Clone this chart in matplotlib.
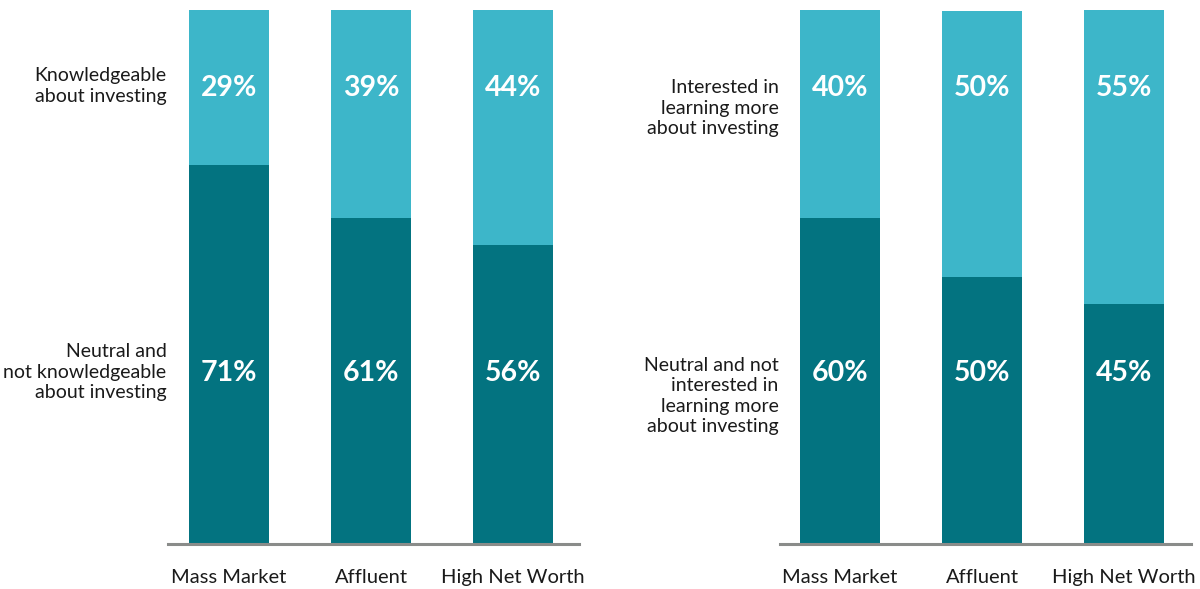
import matplotlib
matplotlib.use("Agg")
import matplotlib.pyplot as plt

categories = ["Mass Market", "Affluent", "High Net Worth"]

left_dark = [71, 61, 56]
left_light = [29, 39, 44]
left_dark_labels = ["71%", "61%", "56%"]
left_light_labels = ["29%", "39%", "44%"]

right_dark = [61, 50, 45]
right_light = [39, 49.8, 55]
right_dark_labels = ["60%", "50%", "45%"]
right_light_labels = ["40%", "50%", "55%"]

left_rows = ["Knowledgeable\nabout investing",
             "Neutral and\nnot knowledgeable\nabout investing"]
right_rows = ["Interested in\nlearning more\nabout investing",
              "Neutral and not\ninterested in\nlearning more\nabout investing"]

DARK = "#037380"
LIGHT = "#3db6c9"
GREY = "#8a8c8a"

plt.rcParams["font.family"] = ["Lato", "DejaVu Sans"]

fig = plt.figure(figsize=(12, 5.89), dpi=100)
W, H = 1200, 589


def make_axes(x0, x1, xmin, xmax):
    ax = fig.add_axes([x0 / W, 45 / H, (x1 - x0) / W, 534 / H])
    ax.set_xlim(xmin, xmax)
    ax.set_ylim(0, 100)
    for s in ["top", "right", "left"]:
        ax.spines[s].set_visible(False)
    ax.spines["bottom"].set_color(GREY)
    ax.spines["bottom"].set_linewidth(2.2)
    ax.set_yticks([])
    ax.tick_params(axis="x", length=0, pad=18, labelsize=14.5, colors="#1a1a1a")
    return ax


def draw(ax, dark, light, dlab, llab, rows, row_y):
    x = range(len(categories))
    w = 80 / 142
    ax.bar(x, dark, width=w, color=DARK)
    ax.bar(x, light, width=w, bottom=dark, color=LIGHT)
    ax.set_xticks(list(x))
    ax.set_xticklabels(categories)
    for i in x:
        ax.text(i, 85.4, llab[i], ha="center", va="center", color="white",
                fontsize=20.5, fontweight="bold")
        ax.text(i, 32.0, dlab[i], ha="center", va="center", color="white",
                fontsize=20.5, fontweight="bold")
    xmin = ax.get_xlim()[0]
    for txt, yy in zip(rows, row_y):
        ax.text(xmin - 0.01, yy, txt, ha="right", va="center", fontsize=14,
                color="#1a1a1a", linespacing=1.25, clip_on=False)


axl = make_axes(168, 579, -61 / 142, 2 + 66 / 142)
draw(axl, left_dark, left_light, left_dark_labels, left_light_labels,
     left_rows, [85.8, 32.2])

axr = make_axes(780, 1191, -60 / 142, 2 + 67 / 142)
draw(axr, right_dark, right_light, right_dark_labels, right_light_labels,
     right_rows, [81.6, 27.7])

fig.savefig("out.png", dpi=100)
plt.close(fig)
